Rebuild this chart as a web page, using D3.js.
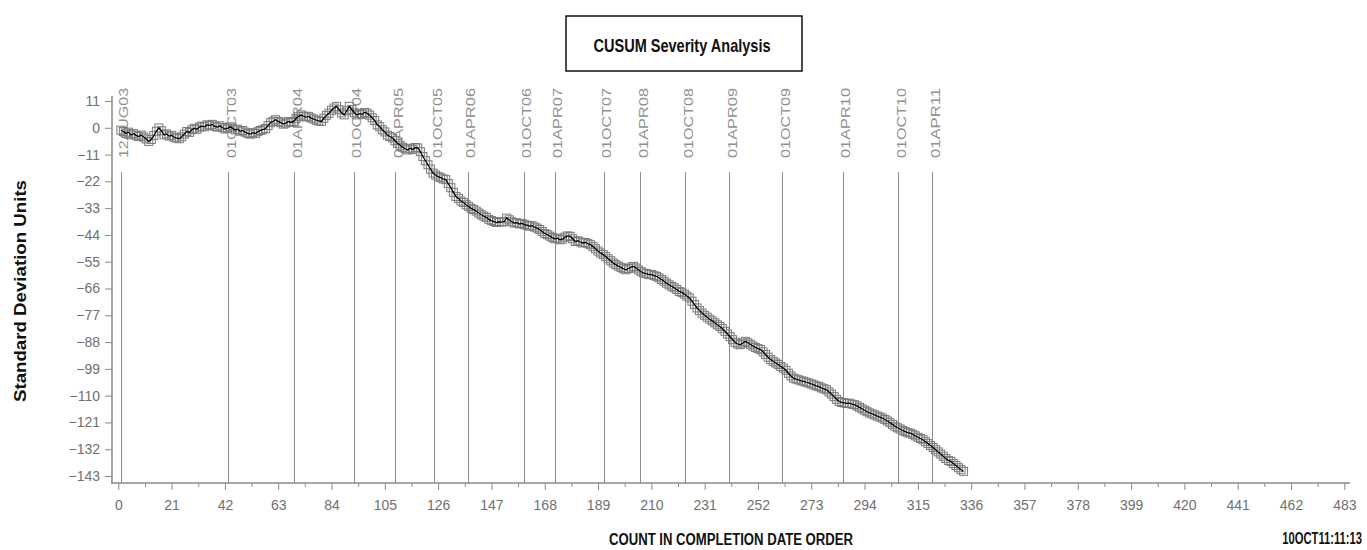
<!DOCTYPE html>
<html>
<head>
<meta charset="utf-8">
<script src="https://cdn.jsdelivr.net/npm/d3@7"></script>
<style>
  html, body { margin: 0; padding: 0; background: #fff; }
  svg { display: block; }
</style>
</head>
<body>
<div id="chart"></div>
<script>
// ---- data ----
const cusumValues = [
  -1.0, -1.5, -2.3, -1.8, -2.9, -2.4, -3.1, -3.6, -3.0, -3.8,
  -4.6, -5.6, -4.8, -3.2, -1.4, -0.1, -1.2, -2.9, -2.5, -3.4,
  -3.1, -3.9, -4.2, -4.5, -3.7, -2.6, -1.5, -1.9, -0.8, -0.2,
  -0.6, 0.3, 0.7, 0.4, 1.2, 1.0, 1.4, 0.6, 0.3, 0.8,
  0.1, -0.5, -0.2, 0.4, -0.1, -0.9, -0.6, -1.4, -1.1, -1.8,
  -2.3, -2.6, -2.0, -2.4, -1.6, -1.1, -0.8, -0.3, 0.9, 2.1,
  2.7, 3.3, 2.6, 2.1, 1.5, 1.9, 2.6, 2.2, 2.6, 3.8,
  4.6, 5.3, 4.8, 4.4, 4.7, 4.0, 3.6, 3.1, 2.8, 2.6,
  3.9, 5.1, 6.0, 7.2, 8.1, 8.8, 7.4, 6.1, 5.3, 7.0,
  8.8, 7.5, 6.2, 5.3, 5.8, 5.5, 6.3, 6.0, 5.2, 4.1,
  3.0, 1.2, 0.4, -0.8, -1.7, -3.0, -3.6, -4.2, -5.3, -6.4,
  -7.2, -8.0, -8.6, -9.1, -8.4, -8.9, -8.1, -8.3, -9.8, -11.8,
  -13.5, -15.2, -17.0, -18.6, -19.4, -20.1, -20.5, -21.0, -21.3, -22.9,
  -24.6, -26.5, -28.2, -29.0, -30.1, -30.7, -31.6, -32.3, -33.1, -33.6,
  -34.2, -35.0, -35.7, -36.3, -36.8, -37.6, -38.1, -38.5, -38.9, -38.6,
  -38.7, -38.5, -37.1, -37.8, -38.6, -39.1, -39.0, -39.5, -39.3, -39.8,
  -40.0, -40.4, -40.2, -40.8, -41.2, -41.8, -42.6, -43.4, -43.9, -44.5,
  -45.1, -45.6, -45.3, -46.0, -45.7, -44.9, -44.4, -44.6, -45.6, -46.7,
  -46.4, -46.9, -47.3, -47.1, -47.6, -48.0, -48.8, -49.7, -50.6, -51.4,
  -52.1, -52.9, -53.8, -54.6, -55.5, -56.2, -56.8, -57.3, -57.9, -58.3,
  -57.8, -57.2, -56.9, -57.6, -58.4, -59.1, -59.7, -59.9, -60.3, -60.2,
  -60.7, -61.0, -61.6, -62.3, -63.0, -63.8, -64.5, -65.1, -65.7, -66.4,
  -67.2, -67.6, -68.3, -69.1, -69.9, -71.2, -72.6, -74.0, -75.1, -76.1,
  -77.0, -77.8, -78.6, -79.3, -80.1, -80.9, -81.6, -82.5, -83.6, -84.7,
  -85.8, -87.0, -88.1, -88.8, -89.1, -88.4, -87.7, -88.3, -88.9, -89.6,
  -90.2, -90.7, -91.1, -92.0, -93.1, -94.2, -95.2, -95.9, -96.6, -97.2,
  -98.0, -98.7, -99.6, -100.8, -101.9, -102.8, -103.2, -103.5, -103.9, -104.1,
  -104.5, -104.8, -105.2, -105.6, -106.0, -106.3, -106.8, -107.2, -107.6, -108.5,
  -109.4, -110.4, -111.5, -112.4, -112.8, -113.0, -113.2, -113.1, -113.5, -113.7,
  -114.2, -114.8, -115.4, -116.0, -116.6, -117.1, -117.5, -117.9, -118.4, -118.8,
  -119.2, -119.8, -120.4, -121.1, -121.8, -122.6, -123.2, -123.7, -124.3, -124.8,
  -125.2, -125.4, -125.9, -126.5, -127.1, -127.6, -128.1, -128.9, -129.7, -130.5,
  -131.3, -132.2, -133.1, -134.0, -134.9, -135.8, -136.6, -137.0, -137.9, -138.7,
  -139.6, -140.4, -141.1
];
const firstCount = 1;

const refDates  = ["12AUG03","01OCT03","01APR04","01OCT04","01APR05","01OCT05","01APR06","01OCT06","01APR07",
                   "01OCT07","01APR08","01OCT08","01APR09","01OCT09","01APR10","01OCT10","01APR11"];
const refCounts = [1, 43.3, 69.3, 92.7, 109, 124.4, 137.6, 159.7, 171.9, 191.2, 205.6, 223.4, 240.6, 261.5, 285.4, 307.3, 320.7];

const xTicks = d3.range(0, 484, 21);        // 0, 21, ... 483
const xMinorTicks = d3.range(10.5, 483, 21);
const yTicks = d3.range(11, -144, -11);     // 11, 0, -11, ... -143

const titleText = "CUSUM Severity Analysis";
const yLabel = "Standard Deviation Units";
const xLabel = "COUNT IN COMPLETION DATE ORDER";
const stampText = "10OCT11:11:13";

// ---- drawing ----
const W = 1367, H = 550;
const svg = d3.select("#chart").append("svg").attr("width", W).attr("height", H);

const x = d3.scaleLinear().domain([0, 483]).range([118.3, 1344.3]);
const y = d3.scaleLinear().domain([-143, 11]).range([476, 101]);

const axisColor = "#8a8a8a";
const tickFont = "'Liberation Sans', Arial, sans-serif";
const boldFont = "'Liberation Sans Narrow', 'Liberation Sans', Arial, sans-serif";

// title box
svg.append("rect").attr("x", 566).attr("y", 16).attr("width", 236).attr("height", 55)
  .attr("fill", "none").attr("stroke", "#111").attr("stroke-width", 1.5);
svg.append("text").attr("x", 682).attr("y", 52).attr("text-anchor", "middle")
  .attr("font-family", boldFont).attr("font-weight", "bold").attr("font-size", 19)
  .attr("textLength", 177).attr("lengthAdjust", "spacingAndGlyphs")
  .attr("fill", "#111").text(titleText);

// reference lines
const refG = svg.append("g");
refG.selectAll("line").data(refCounts).join("line")
  .attr("x1", d => Math.round(x(d)) + 0.5).attr("x2", d => Math.round(x(d)) + 0.5)
  .attr("y1", 172).attr("y2", 483)
  .attr("stroke", "#8c8c8c").attr("stroke-width", 1);
refG.selectAll("text").data(refDates).join("text")
  .attr("transform", (d, i) => `translate(${x(refCounts[i]) + 3},158) rotate(-90)`)
  .attr("dy", "0.35em")
  .attr("font-family", tickFont).attr("font-size", 13)
  .attr("textLength", 70).attr("lengthAdjust", "spacingAndGlyphs")
  .attr("fill", "#909090").text(d => d);

// y axis
const yAxisG = svg.append("g").attr("transform", "translate(112,0)")
  .call(d3.axisLeft(y).tickValues(yTicks).tickSize(7).tickPadding(5).tickFormat(d3.format("d")));
yAxisG.select(".domain").remove();
yAxisG.selectAll(".tick line").attr("stroke", axisColor);
yAxisG.selectAll(".tick text").attr("font-family", tickFont).attr("font-size", 14).attr("fill", "#707070");
svg.append("line").attr("x1", 112).attr("x2", 112).attr("y1", 96).attr("y2", 483.5)
  .attr("stroke", axisColor).attr("stroke-width", 1.5);

// x axis
const xAxisG = svg.append("g").attr("transform", "translate(0,483)")
  .call(d3.axisBottom(x).tickValues(xTicks).tickSize(7).tickPadding(10).tickFormat(d3.format("d")));
xAxisG.select(".domain").remove();
xAxisG.selectAll(".tick line").attr("stroke", axisColor);
xAxisG.selectAll(".tick text").attr("font-family", tickFont).attr("font-size", 14).attr("fill", "#707070");
const xMinorG = svg.append("g").attr("transform", "translate(0,483)")
  .call(d3.axisBottom(x).tickValues(xMinorTicks).tickSize(4).tickFormat(""));
xMinorG.select(".domain").remove();
xMinorG.selectAll(".tick line").attr("stroke", axisColor);
svg.append("line").attr("x1", 111).attr("x2", 1350).attr("y1", 483).attr("y2", 483)
  .attr("stroke", axisColor).attr("stroke-width", 1.5);

// series
const pts = cusumValues.map((v, i) => ({ c: firstCount + i, v }));
const s = 8;
svg.append("g").selectAll("rect").data(pts).join("rect")
  .attr("x", d => x(d.c) - s / 2).attr("y", d => y(d.v) - s / 2)
  .attr("width", s).attr("height", s)
  .attr("fill", "none").attr("stroke", "#7a7a7a").attr("stroke-width", 1);
svg.append("path").datum(pts)
  .attr("d", d3.line().x(d => x(d.c)).y(d => y(d.v)))
  .attr("fill", "none").attr("stroke", "#000").attr("stroke-width", 1.3);

// axis labels
svg.append("text").attr("transform", "translate(26,291) rotate(-90)")
  .attr("text-anchor", "middle")
  .attr("font-family", "'Liberation Sans', Arial, sans-serif").attr("font-weight", "bold").attr("font-size", 17)
  .attr("textLength", 222).attr("lengthAdjust", "spacingAndGlyphs")
  .attr("fill", "#111").text(yLabel);
svg.append("text").attr("x", 731).attr("y", 545).attr("text-anchor", "middle")
  .attr("font-family", boldFont).attr("font-weight", "bold").attr("font-size", 16)
  .attr("textLength", 244).attr("lengthAdjust", "spacingAndGlyphs")
  .attr("fill", "#111").text(xLabel);
svg.append("text").attr("transform", "translate(1362,544) scale(0.7,1)").attr("text-anchor", "end")
  .attr("font-family", boldFont).attr("font-weight", "bold").attr("font-size", 16)
  .attr("fill", "#111").text(stampText);
</script>
</body>
</html>
